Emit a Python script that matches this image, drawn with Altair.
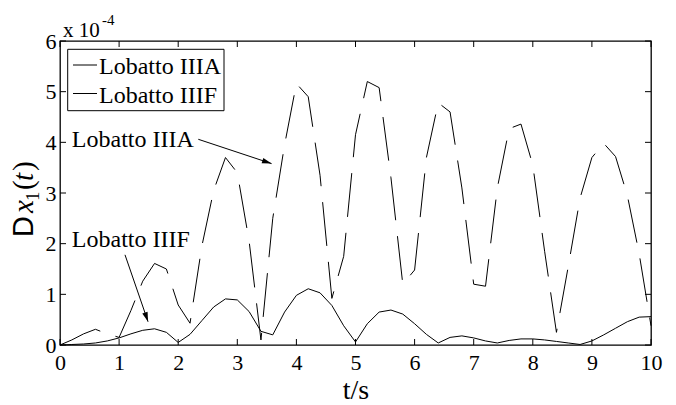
import math
import altair as alt
import pandas as pd

# ---------------- data (values in units of 1e-4) ----------------
t_s = [0.0, 0.2, 0.4, 0.6, 0.8, 1.0, 1.2, 1.4, 1.6, 1.8,
       2.0, 2.2, 2.4, 2.6, 2.8, 3.0, 3.2, 3.4, 3.6, 3.8,
       4.0, 4.2, 4.4, 4.6, 4.8, 5.0, 5.2, 5.4, 5.6, 5.8,
       6.0, 6.2, 6.4, 6.6, 6.8, 7.0, 7.2, 7.4, 7.6, 7.8,
       8.0, 8.2, 8.4, 8.6, 8.8, 9.0, 9.2, 9.4, 9.6, 9.8, 10.0]

lobatto_iiia = [0.00, 0.10, 0.22, 0.31, 0.22, 0.15, 0.68, 1.26, 1.61, 1.50,
                0.79, 0.43, 1.95, 3.05, 3.70, 3.40, 2.05, 0.10, 2.50, 3.95,
                5.16, 4.90, 3.35, 0.92, 1.75, 4.15, 5.20, 5.08, 3.30, 1.20,
                1.48, 3.70, 4.78, 4.60, 3.10, 1.20, 1.16, 3.10, 4.27, 4.36,
                3.55, 1.85, 0.25, 1.55, 2.90, 3.70, 3.98, 3.72, 2.95, 1.80, 0.38]

lobatto_iiif = [0.00, 0.01, 0.02, 0.04, 0.08, 0.14, 0.22, 0.29, 0.32, 0.25,
                0.05, 0.21, 0.48, 0.75, 0.91, 0.89, 0.66, 0.27, 0.20, 0.65,
                0.98, 1.11, 1.03, 0.78, 0.38, 0.06, 0.42, 0.65, 0.69, 0.61,
                0.42, 0.21, 0.04, 0.15, 0.18, 0.14, 0.08, 0.04, 0.09, 0.12,
                0.12, 0.10, 0.07, 0.04, 0.01, 0.08, 0.20, 0.33, 0.46, 0.55, 0.56]

x_ticks = [0, 1, 2, 3, 4, 5, 6, 7, 8, 9, 10]
y_ticks = [0, 1, 2, 3, 4, 5, 6]
series_names = ["Lobatto IIIA", "Lobatto IIIF"]

# annotation anchors (data coordinates)
ann_text_t = [0.2, 0.2]
ann_text_v = [3.91, 1.94]
ann_from_t = [2.34, 1.10]
ann_from_v = [4.06, 1.78]
ann_to_t = [3.58, 1.49]
ann_to_v = [3.58, 0.46]

# ---------------- layout ----------------
W, H = 591, 304
XMAX, YMAX = 10, 6
SERIF = "Liberation Serif"
SANS = "Liberation Sans"

df = pd.DataFrame({"t": t_s, "IIIA": lobatto_iiia, "IIIF": lobatto_iiif})

xs = alt.Scale(domain=[0, XMAX], nice=False, zero=False)
ys = alt.Scale(domain=[0, YMAX], nice=False, zero=False)

x_axis = alt.Axis(values=x_ticks, tickSize=0, domain=False, grid=False,
                  labelFont=SERIF, labelFontSize=22, labelColor="black",
                  labelPadding=7, labelFlush=False, labelOverlap=False,
                  title="t/s", titleFont=SERIF, titleFontSize=28,
                  titleFontWeight="normal", titleColor="black", titlePadding=3)
y_axis = alt.Axis(values=y_ticks, tickSize=0, domain=False, grid=False,
                  labelFont=SERIF, labelFontSize=22, labelColor="black",
                  labelPadding=4, labelFlush=False, labelOverlap=False,
                  title=" ")


def X(field):
    return alt.X(field, scale=xs, axis=x_axis)


def Y(field):
    return alt.Y(field, scale=ys, axis=y_axis)


line_a = alt.Chart(df).mark_line(color="black", strokeWidth=1,
                                 strokeDash=[44, 16]).encode(
    x=X("t:Q"), y=Y("IIIA:Q"))
line_f = alt.Chart(df).mark_line(color="black", strokeWidth=1).encode(
    x=X("t:Q"), y=Y("IIIF:Q"))

# inner tick marks on all four sides
xt_df = pd.DataFrame({"v": x_ticks})
yt_df = pd.DataFrame({"v": y_ticks})
TL = 6
xt_bottom = alt.Chart(xt_df).mark_rule(color="black", strokeWidth=1).encode(
    x=X("v:Q"), y=alt.value(H), y2=alt.value(H - TL))
xt_top = alt.Chart(xt_df).mark_rule(color="black", strokeWidth=1).encode(
    x=X("v:Q"), y=alt.value(0), y2=alt.value(TL))
yt_left = alt.Chart(yt_df).mark_rule(color="black", strokeWidth=1).encode(
    y=Y("v:Q"), x=alt.value(0), x2=alt.value(TL))
yt_right = alt.Chart(yt_df).mark_rule(color="black", strokeWidth=1).encode(
    y=Y("v:Q"), x=alt.value(W), x2=alt.value(W - TL))

one = pd.DataFrame({"a": [0]})

# legend box
leg_box = alt.Chart(one).mark_rect(fill="white", stroke="black", strokeWidth=1).encode(
    x=alt.value(7.7), x2=alt.value(164), y=alt.value(8.3), y2=alt.value(69.7))
leg_line_a = alt.Chart(one).mark_rule(color="black", strokeWidth=1, strokeDash=[44, 16]).encode(
    x=alt.value(13), x2=alt.value(37), y=alt.value(24))
leg_line_f = alt.Chart(one).mark_rule(color="black", strokeWidth=1).encode(
    x=alt.value(13), x2=alt.value(37), y=alt.value(52.5))
leg_txt_a = alt.Chart(one).mark_text(align="left", baseline="alphabetic", font=SERIF,
                                     fontSize=24, color="black").encode(
    x=alt.value(39), y=alt.value(33), text=alt.value(series_names[0]))
leg_txt_f = alt.Chart(one).mark_text(align="left", baseline="alphabetic", font=SERIF,
                                     fontSize=24, color="black").encode(
    x=alt.value(39), y=alt.value(61.5), text=alt.value(series_names[1]))

# annotations with arrows
px_x = W / XMAX
px_y = H / YMAX
angles = []
for a, b, c, d in zip(ann_from_t, ann_from_v, ann_to_t, ann_to_v):
    dx = (c - a) * px_x
    dy = -(d - b) * px_y
    angles.append(math.degrees(math.atan2(dy, dx)) % 360)

ann_df = pd.DataFrame({"label": series_names, "tx": ann_text_t, "ty": ann_text_v,
                       "x0": ann_from_t, "y0": ann_from_v,
                       "x1": ann_to_t, "y1": ann_to_v, "ang": angles})

ann_text = alt.Chart(ann_df).mark_text(align="left", baseline="alphabetic", font=SERIF,
                                       fontSize=24, color="black").encode(
    x=X("tx:Q"), y=Y("ty:Q"), text="label:N")
ann_line = alt.Chart(ann_df).mark_rule(color="black", strokeWidth=1).encode(
    x=X("x0:Q"), y=Y("y0:Q"), x2="x1:Q", y2="y1:Q")
ARROW = "M0,0L-2.4,-0.7L-2.4,0.7Z"
ann_head = alt.Chart(ann_df).mark_point(shape=ARROW, filled=True, size=64, color="black",
                                        opacity=1, strokeWidth=0).encode(
    x=X("x1:Q"), y=Y("y1:Q"), angle=alt.Angle("ang:Q", scale=None))

# exponent label "x 10^-4"
exp_base = alt.Chart(one).mark_text(align="left", baseline="alphabetic", font=SERIF,
                                    fontSize=21, color="black").encode(
    x=alt.value(3), y=alt.value(-4), text=alt.value("x 10"))
exp_pow = alt.Chart(one).mark_text(align="left", baseline="alphabetic", font=SERIF,
                                   fontSize=15, color="black").encode(
    x=alt.value(42), y=alt.value(-16), text=alt.value("-4"))


# y-axis label  D x_1 (t)
def ylab(txt, x, y, font, size, style="normal"):
    return alt.Chart(one).mark_text(align="left", baseline="alphabetic", font=font,
                                    fontSize=size, fontStyle=style, angle=270,
                                    color="black").encode(
        x=alt.value(x), y=alt.value(y), text=alt.value(txt))


yl_D = ylab("D", -27, 196, SANS, 29)
yl_x = ylab("x", -27, 172, SERIF, 29, "italic")
yl_1 = ylab("1", -21, 160, SERIF, 19)
yl_p1 = ylab("(", -27, 149, SERIF, 29)
yl_t = ylab("t", -27, 140, SERIF, 29, "italic")
yl_p2 = ylab(")", -27, 130, SERIF, 29)

chart = alt.layer(
    line_a, line_f, xt_bottom, xt_top, yt_left, yt_right,
    ann_line, ann_head, ann_text,
    leg_box, leg_line_a, leg_line_f, leg_txt_a, leg_txt_f,
    exp_base, exp_pow, yl_D, yl_x, yl_1, yl_p1, yl_t, yl_p2,
).properties(
    width=W, height=H,
    padding={"left": 52, "top": 33, "right": 17, "bottom": 61},
    autosize=alt.AutoSizeParams(type="none"),
    background="white",
).configure_view(stroke="black", strokeWidth=1.3)

chart.save("out.html", embed_options={"renderer": "svg", "actions": False})
